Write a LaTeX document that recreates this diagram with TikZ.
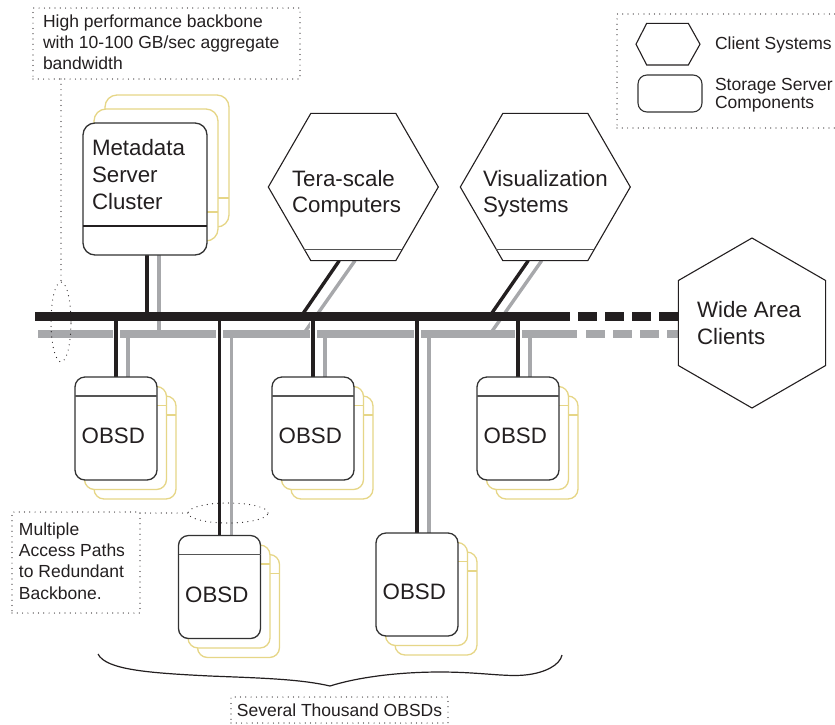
\documentclass[tikz,border=0pt]{standalone}
\usepackage{fontspec}
\setmainfont{Liberation Sans}
\usetikzlibrary{shapes.geometric,calc,backgrounds}
\definecolor{ink}{RGB}{35,31,32}
\definecolor{bbgray}{RGB}{167,168,171}
\definecolor{pale}{RGB}{230,214,135}
\definecolor{edgec}{RGB}{50,50,50}
\definecolor{divc}{RGB}{85,85,85}
\newcommand\obsdstack[4]{%
  \node[backbox,obsdsize] (#1c) at (#2+19,#3+19) {};
  \draw[palediv] ([yshift=-19pt]#1c.north west) -- ([yshift=-19pt]#1c.north east);
  \node[backbox,obsdsize] (#1b) at (#2+9.5,#3+9.5) {};
  \draw[palediv] ([yshift=-19pt]#1b.north west) -- ([yshift=-19pt]#1b.north east);
  \node[frontbox,obsdsize] (#1) at (#2,#3) {};
  \ifnum#4=1 \draw[obsddiv] ([yshift=-19pt]#1.north west) -- ([yshift=-19pt]#1.north east);\fi
  \node[big] (#1t) at ([shift={(-2.7pt,-7.8pt)}]#1.center) {OBSD};
}
\begin{document}
\begin{tikzpicture}[x=1pt,y=-1pt,
  big/.style={font=\fontsize{22.3}{26.6}\selectfont, text=ink, inner sep=0pt, outer sep=0pt, align=left},
  small/.style={font=\fontsize{17.5}{21.3}\selectfont, text=ink, inner sep=0pt, outer sep=0pt, align=left},
  frontbox/.style={draw=edgec, line width=1.3pt, fill=white, rounded corners=10pt, inner sep=0pt, outer sep=0pt},
  backbox/.style={draw=pale, line width=1.3pt, fill=white, rounded corners=10pt, inner sep=0pt, outer sep=0pt},
  obsdsize/.style={minimum width=82pt, minimum height=103pt},
  mdsize/.style={minimum width=124pt, minimum height=132pt, rounded corners=12pt},
  palediv/.style={draw=pale, line width=1.2pt},
  obsddiv/.style={draw=divc, line width=1.8pt},
  hexa/.style={regular polygon, regular polygon sides=6, minimum size=170pt, draw=ink, line width=1.1pt, fill=white, inner sep=0pt, outer sep=0pt},
  hexline/.style={draw=divc, line width=1pt},
  notebox/.style={draw=ink, line width=1.2pt, line cap=round, dash pattern=on 0pt off 5.3pt, inner sep=0pt, outer sep=0pt},
  blk/.style={draw=ink, line width=3.4pt},
  gry/.style={draw=bbgray, line width=3.4pt},
  casing/.style={draw=white, line width=7pt},
  bbblk/.style={draw=ink, line width=8.5pt},
  bbgry/.style={draw=bbgray, line width=8pt},
]
\useasboundingbox (0,0) rectangle (835,724);

% ---------- backbone coordinates ----------
\coordinate (bbk) at (35,316.5);
\coordinate (bbkE) at (570,316.5);
\coordinate (bbkD) at (578,316.5);
\coordinate (bbg) at (38,334);
\coordinate (bbgE) at (577,334);
\coordinate (bbgD) at (586,334);
\coordinate (tcbk) at (301,316.5);
\coordinate (tcgr) at (303.4,334);
\coordinate (vsbk) at (489.5,316.5);
\coordinate (vsgr) at (490.1,334);

% ---------- client hexagons ----------
\node[hexa] (tc) at (353.3,187) {};
\node[hexa] (vs) at (545.3,187) {};
\node[hexa, shape border rotate=90] (wa) at (752,323) {};
\draw[hexline] ([shift={(-48.9pt,11pt)}]tc.south) -- ([shift={(48.9pt,11pt)}]tc.south);
\draw[hexline] ([shift={(-48.9pt,11pt)}]vs.south) -- ([shift={(48.9pt,11pt)}]vs.south);
\node[big, anchor=west] (tct) at (292,193.8) {Tera-scale\\Computers};
\node[big, anchor=west] (vst) at (483,193.8) {Visualization\\Systems};
\node[big, anchor=west] (wat) at (697,323) {Wide Area\\Clients};

% ---------- metadata stack ----------
\node[backbox,mdsize] (mdc) at (167,161) {};
\draw[palediv] ([yshift=29pt]mdc.south west) -- ([yshift=29pt]mdc.south east);
\node[backbox,mdsize] (mdb) at (156,175) {};
\draw[palediv] ([yshift=29pt]mdb.south west) -- ([yshift=29pt]mdb.south east);
\node[frontbox,mdsize] (md) at (145,189) {};
\draw[draw=ink, line width=2pt] ([yshift=29pt]md.south west) -- ([yshift=29pt]md.south east);
\node[big, anchor=west] (mdt) at (92,174.5) {Metadata\\Server\\Cluster};

% ---------- OBSD stacks ----------
\obsdstack{oa}{116}{428.5}{1}
\obsdstack{ob}{313}{428.5}{1}
\obsdstack{oe}{518}{428.5}{1}
\obsdstack{oc}{219.5}{587}{1}
\obsdstack{od}{417}{584.5}{0}

% ---------- network lines (behind the boxes) ----------
\begin{pgfonlayer}{background}
\draw[bbgry] (bbg) -- (bbgE);
\draw[bbgry, dash pattern=on 18.5pt off 8.5pt] (bbgD) -- (bbgD -| wa.west);
\draw[gry] ([xshift=14pt]md.south) -- ([xshift=14pt]md.south |- bbg);
\draw[gry] ([xshift=1.7pt]tc.south) -- (tcgr);
\draw[gry] ([xshift=-3.6pt]vs.south) -- (vsgr);
\foreach \o in {oa,ob,oc,od,oe}{
  \draw[gry] ([xshift=12pt]\o.north |- bbg) -- ([xshift=12pt]\o.north);
}
\foreach \o in {oa,ob,oc,od,oe}{
  \draw[casing] (\o.north |- bbk) -- (\o.north);
  \draw[blk] (\o.north |- bbk) -- (\o.north);
}
\draw[blk] ([xshift=2pt]md.south) -- ([xshift=2pt]md.south |- bbk);
\draw[blk] ([xshift=-14pt]tc.south) -- (tcbk);
\draw[blk] ([xshift=-17pt]vs.south) -- (vsbk);
\draw[bbblk] (bbk) -- (bbkE);
\draw[bbblk, dash pattern=on 19pt off 8pt] (bbkD) -- (bbkD -| wa.west);
\end{pgfonlayer}

% ---------- notes ----------
\node[notebox, minimum width=267pt, minimum height=71pt] (bbnote) at (166.5,43.5) {};
\node[small, anchor=west] (bbtext) at (43,42.2) {High performance backbone\\with 10-100 GB/sec aggregate\\bandwidth};
\node[notebox, ellipse, minimum width=20pt, minimum height=80pt] (ell1) at (61,322) {};
\draw[notebox] (bbnote.south -| ell1.north) -- (ell1.north);

\node[notebox, minimum width=128pt, minimum height=101pt] (mnote) at (76,562.5) {};
\node[small, anchor=west] (mtext) at (19,561) {Multiple\\Access Paths\\to Redundant\\Backbone.};
\node[notebox, ellipse, minimum width=80pt, minimum height=20pt] (ell2) at (228,513) {};
\draw[notebox] (ell2.west -| mnote.east) -- (ell2.west);

\node[notebox, small, minimum width=217pt, minimum height=26pt] (snote) at (339.5,710) {Several Thousand OBSDs};
\draw[ink, line width=1.2pt] (98,654) .. controls (106,670) and (150,673) .. (210,676)
  .. controls (260,678) and (300,679) .. (330,686)
  .. controls (355,678) and (395,672) .. (440,672)
  .. controls (480,672) and (505,677) .. (525,675)
  .. controls (545,673) and (560,665) .. (562,655);

% ---------- legend ----------
\node[notebox, minimum width=240pt, minimum height=114pt] (legend) at (737,71) {};
\draw[ink, line width=1.1pt] (636,44.2) -- (646.7,23.3) -- (688.3,23.3) -- (700,44.2) -- (688.3,65) -- (646.7,65) -- cycle;
\draw[edgec, line width=1.1pt, rounded corners=9pt] (638,75) rectangle (702,112);
\node[small, anchor=west] (lg1) at (715,45.4) {Client Systems};
\node[small, anchor=west, font=\fontsize{17.5}{17.6}\selectfont] (lg2) at (715,95) {Storage Server\\Components};
\end{tikzpicture}
\end{document}
